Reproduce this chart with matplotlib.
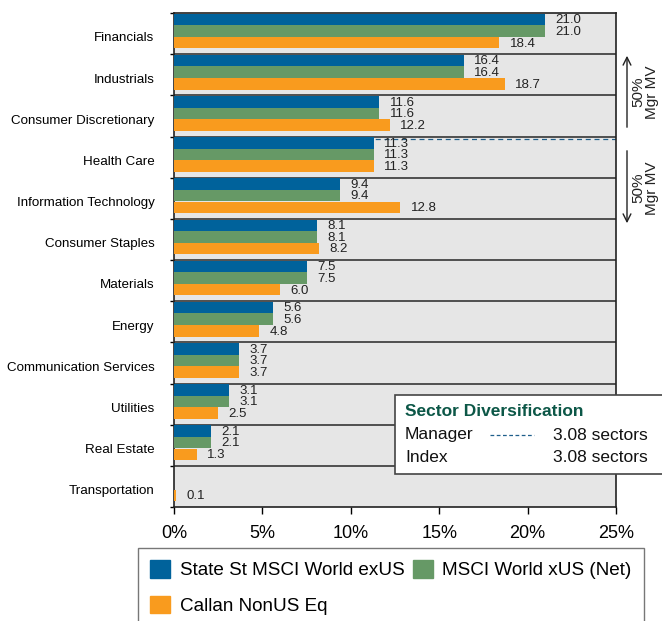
import matplotlib
matplotlib.use("Agg")
import matplotlib.pyplot as plt
from matplotlib.patches import Rectangle, Patch
import numpy as np

plt.rcParams['font.family'] = ['Liberation Sans', 'DejaVu Sans']

categories = ["Financials", "Industrials", "Consumer Discretionary", "Health Care",
              "Information Technology", "Consumer Staples", "Materials", "Energy",
              "Communication Services", "Utilities", "Real Estate", "Transportation"]
state_st = [21.0, 16.4, 11.6, 11.3, 9.4, 8.1, 7.5, 5.6, 3.7, 3.1, 2.1, 0.0]
msci = [21.0, 16.4, 11.6, 11.3, 9.4, 8.1, 7.5, 5.6, 3.7, 3.1, 2.1, 0.0]
callan = [18.4, 18.7, 12.2, 11.3, 12.8, 8.2, 6.0, 4.8, 3.7, 2.5, 1.3, 0.1]
series_names = ["State St MSCI World exUS", "MSCI World xUS (Net)", "Callan NonUS Eq"]
xticks = [0, 5, 10, 15, 20, 25]
xticklabels = ["0%", "5%", "10%", "15%", "20%", "25%"]

colors = ["#00629b", "#669966", "#f99b1e"]

W, H = 662, 621
fig = plt.figure(figsize=(W / 100, H / 100), dpi=100)
ax = fig.add_axes([174 / W, 1 - 507 / H, (616 - 174) / W, (507 - 13) / H])
ax.set_facecolor("#e6e6e6")

n = len(categories)
y = np.arange(n)
h = 0.28
offsets = [-0.343, -0.063, 0.222]
for vals, off, c in zip([state_st, msci, callan], offsets, colors):
    ax.barh(y + off, vals, height=h, color=c, zorder=3)
    for yi, v in zip(y, vals):
        if v > 0:
            ax.annotate(f"{v:.1f}", (v, yi + off + 0.02), xytext=(7.5, 0), textcoords="offset points",
                        va="center", ha="left", fontsize=9.5, color="#222222", zorder=4)

for s in np.arange(0.5, n - 1, 1.0):
    ax.axhline(s, color="#444444", lw=1.3, zorder=2)

# 50% manager MV line
ax.axhline(2.56, color="#1f5f8b", lw=0.9, ls=(0, (4, 3)), zorder=2)

ax.set_xlim(0, 25)
ax.set_ylim(n - 0.5, -0.5)
ax.set_xticks(xticks)
ax.set_xticklabels(xticklabels, fontsize=13)
ax.tick_params(axis="x", length=5, width=1, pad=8)
ax.set_yticks(y + 0.08)
ax.set_yticklabels(categories, fontsize=9.6)
ax.tick_params(axis="y", length=0, pad=14)
ax.set_yticks(np.arange(-0.5, n, 1.0), minor=True)
ax.tick_params(axis="y", which="minor", length=3, width=1)
for sp in ax.spines.values():
    sp.set_color("#222222")
    sp.set_linewidth(1.2)

# Right-side arrows and labels
def fy(py):
    return 1 - py / H

fig.add_artist(matplotlib.patches.FancyArrowPatch((627 / W, fy(130)), (627 / W, fy(53)),
               transform=fig.transFigure, arrowstyle="->", mutation_scale=14,
               color="#222222", lw=1))
fig.add_artist(matplotlib.patches.FancyArrowPatch((627 / W, fy(148)), (627 / W, fy(226)),
               transform=fig.transFigure, arrowstyle="->", mutation_scale=14,
               color="#222222", lw=1))
for cy in [92, 188]:
    fig.text(645 / W, fy(cy), "50%\nMgr MV", rotation=90, ha="center", va="center",
             fontsize=11, color="#222222", linespacing=0.95)

# Sector diversification box
fig.add_artist(Rectangle((395 / W, fy(474)), (668 - 395) / W, (474 - 395) / H,
                         transform=fig.transFigure, facecolor="white",
                         edgecolor="#444444", lw=1.2, zorder=5))
fig.text(405 / W, fy(411), "Sector Diversification", fontsize=12.5, fontweight="bold",
         color="#0c5747", va="center", ha="left", zorder=6)
fig.text(405 / W, fy(435), "Manager", fontsize=12.5, va="center", ha="left", zorder=6,
         color="#111111")
fig.text(405 / W, fy(458), "Index", fontsize=12.5, va="center", ha="left", zorder=6,
         color="#111111")
fig.add_artist(matplotlib.lines.Line2D([490 / W, 534 / W], [fy(435), fy(435)],
               transform=fig.transFigure, color="#1f5f8b", lw=0.9,
               ls=(0, (3, 2)), zorder=6))
fig.text(648 / W, fy(435), "3.08 sectors", fontsize=12.5, va="center", ha="right", zorder=6,
         color="#111111")
fig.text(648 / W, fy(458), "3.08 sectors", fontsize=12.5, va="center", ha="right", zorder=6,
         color="#111111")

# Legend (row-wise order: State St, MSCI on first row; Callan on second)
handles = [Patch(facecolor=c, edgecolor=c) for c in colors]
order = [0, 2, 1]
leg = fig.legend([handles[i] for i in order], [series_names[i] for i in order],
                 loc="upper left",
                 bbox_to_anchor=(138 / W, fy(548)), ncol=2, fontsize=13.6,
                 frameon=True, fancybox=False, handlelength=1.05, handleheight=1.05,
                 labelspacing=0.85, columnspacing=0.45, handletextpad=0.5,
                 borderpad=0.65, borderaxespad=0)
leg.get_frame().set_edgecolor("#555555")
leg.get_frame().set_linewidth(1.0)

fig.savefig("out.png", dpi=100)
